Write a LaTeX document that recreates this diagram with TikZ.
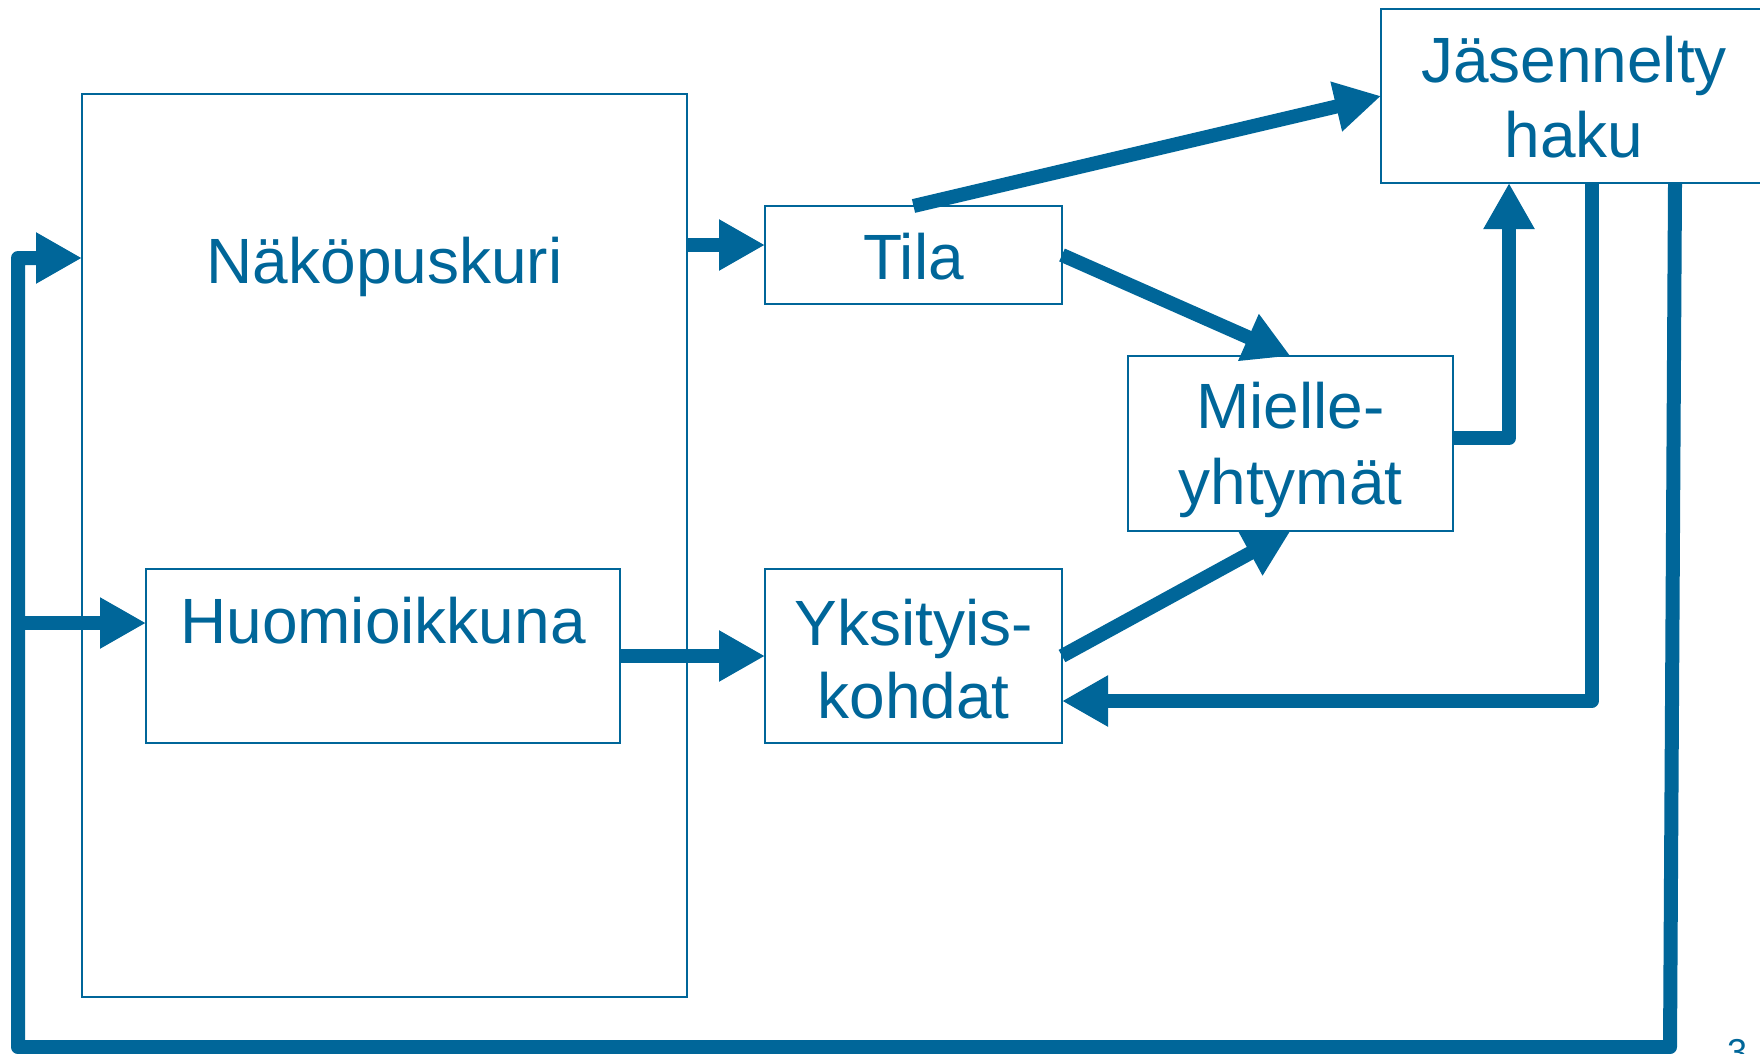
\documentclass[tikz,border=0pt]{standalone}
\usepackage{fontspec}
\setmainfont{Liberation Sans}
\usetikzlibrary{arrows.meta}
\definecolor{cblue}{RGB}{0,102,153}
\begin{document}
\begin{tikzpicture}[x=1pt,y=-1pt,
  box/.style={draw=cblue, line width=2pt, inner sep=0pt, outer sep=0pt},
  lbl/.style={text=cblue, font=\fontsize{64}{75}\selectfont, anchor=base, inner sep=0pt},
  conn/.style={draw=cblue, line width=14pt, line join=round, -{Triangle[length=46pt,width=48pt]}},
  plain/.style={draw=cblue, line width=14pt, line join=round}]
\useasboundingbox (0,0) rectangle (1760,1053);
\clip (0,0) rectangle (1760,1053);
% boxes
\node[box, minimum width=605pt, minimum height=903pt] (nako) at (384.5,545.5) {};
\node[box, minimum width=474pt, minimum height=174pt, fill=white] (huom) at (383,656) {};
\node[box, minimum width=297pt, minimum height=98pt] (tila) at (913.5,255) {};
\node[box, minimum width=297pt, minimum height=174pt] (yks) at (913.5,656) {};
\node[box, minimum width=325pt, minimum height=175pt] (miel) at (1290.5,443.5) {};
\node[box, minimum width=386pt, minimum height=174pt] (jas) at (1574,96) {};
% labels
\node[lbl] (tNako) at (384.5,283) {Näköpuskuri};
\node[lbl] (tHuom) at (383,643) {Huomioikkuna};
\node[lbl] (tTila) at (913.5,279) {Tila};
\node[lbl] (tYks1) at (913.5,645) {Yksityis-};
\node[lbl] (tYks2) at (913.5,718) {kohdat};
\node[lbl] (tMiel1) at (1290.5,428) {Mielle-};
\node[lbl] (tMiel2) at (1290.5,504) {yhtymät};
\node[lbl] (tJas1) at (1574,82) {Jäsennelty};
\node[lbl] (tJas2) at (1574,157) {haku};
\node[text=cblue, font=\fontsize{36}{40}\selectfont, anchor=base, inner sep=0pt] (pnum) at (1737,1064) {3};
% coordinates
\coordinate (br) at (1670,1047);
\coordinate (bl) at (18,1047);
\coordinate (tl) at (18,258);
\coordinate (ml) at (11,623);
\coordinate (tw) at ([yshift=10pt]tila.west);
\coordinate (mE) at ([yshift=5.5pt]miel.east);
\coordinate (jS1) at ([xshift=-65pt]jas.south);
\coordinate (jS2) at ([xshift=17.5pt]jas.south);
\coordinate (jS3) at ([xshift=101pt]jas.south);
\coordinate (yE) at ([yshift=-45pt]yks.east);
% connectors
\draw[conn] (jS3) -- (br) -- (bl) -- (tl) -- (tl -| nako.west);
\draw[conn] (ml) -- (ml -| huom.west);
\draw[conn] (tw -| nako.east) -- (tw);
\draw[conn] (huom.east) -- (yks.west);
\draw[conn] (tila.north) -- (jas.west);
\draw[conn] (tila.east) -- (miel.north);
\draw[conn] (yks.east) -- (miel.south);
\draw[conn] (mE) -| (jS1);
\draw[conn] (jS2) |- (yE);
\end{tikzpicture}
\end{document}
